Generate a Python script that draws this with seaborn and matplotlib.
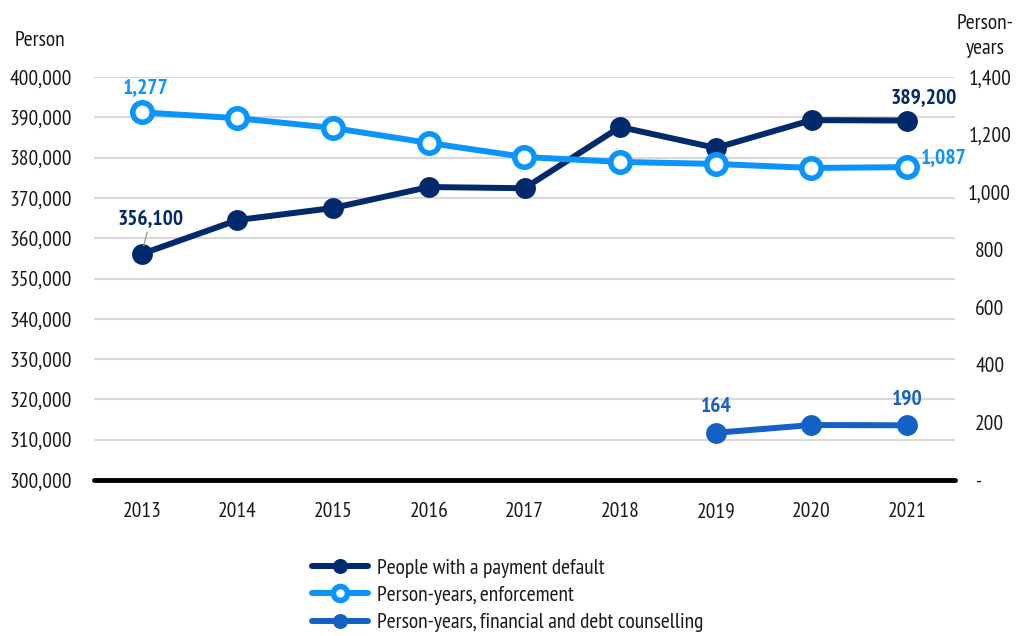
import matplotlib
matplotlib.use("Agg")
import matplotlib.pyplot as plt
import matplotlib.ticker as mticker
import seaborn as sns
import pandas as pd

years = ["2013", "2014", "2015", "2016", "2017", "2018", "2019", "2020", "2021"]
payment_default = [356100, 364500, 367500, 372700, 372400, 387600, 382400, 389300, 389200]
enforcement = [1277, 1257, 1223, 1171, 1122, 1105, 1098, 1084, 1087]
counselling_years = ["2019", "2020", "2021"]
counselling = [164, 191, 190]

left_ticks = list(range(300000, 400001, 10000))
right_ticks = list(range(0, 1401, 200))

NAVY = "#002a6c"
LIGHT = "#0a95fa"
MID = "#1560c4"
TXT = "#1a1a1a"
FS = 15.5

sns.set_theme(style="white")
plt.rcParams["font.family"] = ["PT Sans Narrow", "DejaVu Sans"]

fig = plt.figure(figsize=(10.19, 6.36), dpi=100)
ax = fig.add_axes([94 / 1019, 1 - 480 / 636, (955 - 94) / 1019, (480 - 77) / 636])
ax2 = ax.twinx()

df_main = pd.DataFrame({"year": years, "default": payment_default, "enf": enforcement})
df_c = pd.DataFrame({"year": counselling_years, "val": counselling})

sns.lineplot(data=df_main, x="year", y="default", ax=ax, color=NAVY, lw=4.3,
             marker="o", markersize=15, markeredgewidth=0, zorder=3,
             label="People with a payment default", legend=False)
sns.lineplot(data=df_main, x="year", y="enf", ax=ax2, color=LIGHT, lw=4.3,
             marker="o", markersize=14, markerfacecolor="white",
             markeredgecolor=LIGHT, markeredgewidth=4, zorder=3,
             label="Person-years, enforcement", legend=False)
sns.lineplot(data=df_c, x="year", y="val", ax=ax2, color=MID, lw=4.3,
             marker="o", markersize=15, markeredgewidth=0, zorder=3,
             label="Person-years, financial and debt counselling", legend=False)

ax.set_xlim(-0.5, len(years) - 0.5)
ax.set_ylim(300000, 400000)
ax2.set_ylim(0, 1400)
ax.set_yticks(left_ticks)
ax2.set_yticks(right_ticks)
ax.yaxis.set_major_formatter(mticker.FuncFormatter(lambda v, p: f"{int(v):,}"))
ax2.yaxis.set_major_formatter(
    mticker.FuncFormatter(lambda v, p: "-     " if v == 0 else f"{int(v):,}"))

ax.grid(axis="y", color="#d9d9d9", lw=1.5)
ax.set_axisbelow(True)
ax2.grid(False)
for a in (ax, ax2):
    for s in ("top", "left", "right", "bottom"):
        a.spines[s].set_visible(False)
ax.axhline(300000, color="black", lw=3.5, zorder=4, clip_on=False)

ax.set_xlabel("")
ax.set_ylabel("")
ax2.set_ylabel("")
ax.tick_params(axis="x", length=0, pad=16, labelsize=FS, colors=TXT)
ax.tick_params(axis="y", length=0, pad=16, labelsize=FS, colors=TXT)
ax2.tick_params(axis="y", length=0, pad=25, labelsize=FS, colors=TXT)
for lab in ax2.get_yticklabels():
    lab.set_horizontalalignment("center")

fig.text(40 / 1019, 1 - 40 / 636, "Person", fontsize=FS, ha="center", va="center", color=TXT)
fig.text(985 / 1019, 1 - 36 / 636, "Person-\nyears", fontsize=FS, ha="center", va="center",
         color=TXT, linespacing=1.35)

# value labels
lab_kw = dict(textcoords="offset points", fontsize=FS, fontweight="bold")
ax.annotate(f"{payment_default[0]:,}", xy=(0, payment_default[0]), xytext=(6, 18),
            ha="center", va="bottom", color=NAVY,
            arrowprops=dict(arrowstyle="-", color="#a0a0a0", lw=1, shrinkA=0, shrinkB=6),
            **lab_kw)
ax.annotate(f"{payment_default[-1]:,}", xy=(8, payment_default[-1]), xytext=(12, 10),
            ha="center", va="bottom", color=NAVY, **lab_kw)
ax2.annotate(f"{enforcement[0]:,}", xy=(0, enforcement[0]), xytext=(3, 11),
             ha="center", va="bottom", color=LIGHT, **lab_kw)
ax2.annotate(f"{enforcement[-1]:,}", xy=(8, enforcement[-1]), xytext=(10, 0),
             ha="left", va="bottom", color=LIGHT, **lab_kw)
ax2.annotate(f"{counselling[0]:,}", xy=(6, counselling[0]), xytext=(0, 12),
             ha="center", va="bottom", color=MID, **lab_kw)
ax2.annotate(f"{counselling[-1]:,}", xy=(8, counselling[-1]), xytext=(0, 12),
             ha="center", va="bottom", color=MID, **lab_kw)

h1, l1 = ax.get_legend_handles_labels()
h2, l2 = ax2.get_legend_handles_labels()
leg = fig.legend(h1 + h2, l1 + l2, loc="upper left", bbox_to_anchor=(303 / 1019, 1 - 550 / 636),
                 frameon=False, fontsize=FS, handlelength=2.6, handletextpad=0.45,
                 labelspacing=0.38, borderaxespad=0, markerscale=0.72)
for t in leg.get_texts():
    t.set_color(TXT)

fig.savefig("out.png", dpi=100)
